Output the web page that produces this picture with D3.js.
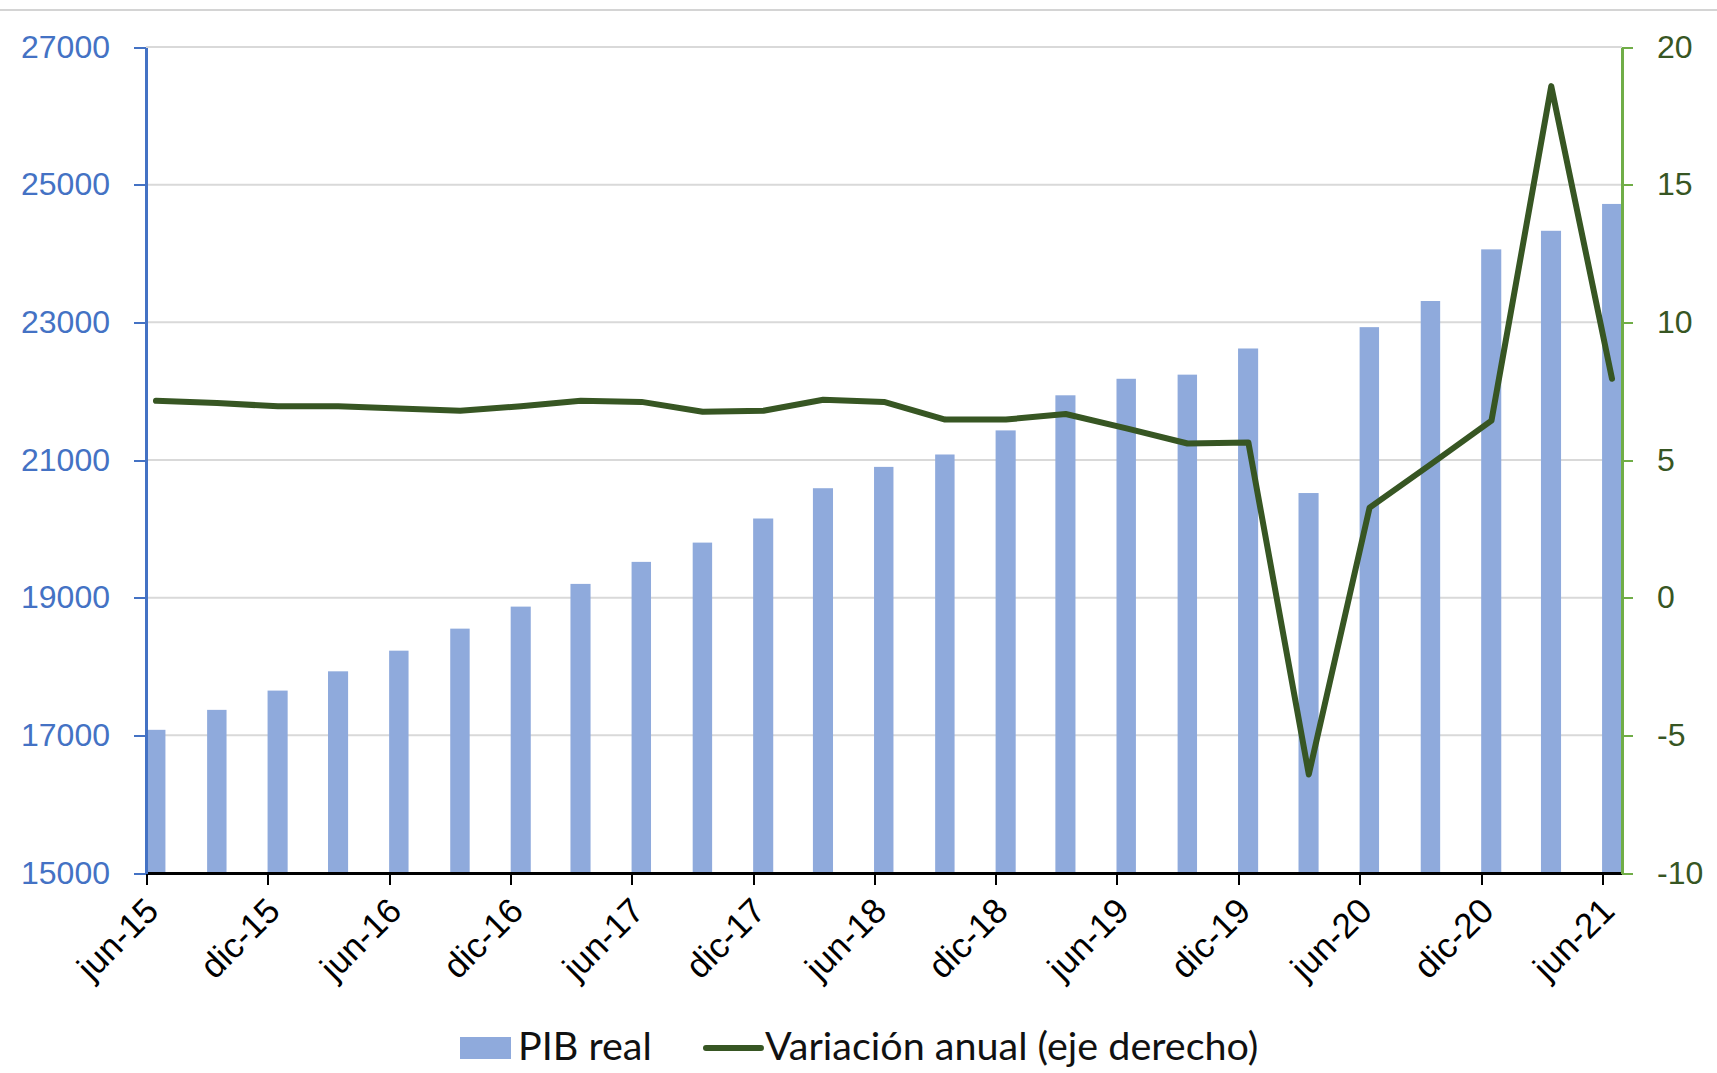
<!DOCTYPE html>
<html>
<head>
<meta charset="utf-8">
<script src="https://cdn.jsdelivr.net/npm/d3@7"></script>
<style>
  body { margin: 0; background: #fff; }
  svg { display: block; font-family: Lato, "Open Sans", sans-serif; }
</style>
</head>
<body>
<svg id="chart"></svg>
<script>
// quarterly data, jun-15 .. jun-21
const quarters = ['2015-06','2015-09','2015-12','2016-03','2016-06','2016-09','2016-12',
  '2017-03','2017-06','2017-09','2017-12','2018-03','2018-06','2018-09','2018-12',
  '2019-03','2019-06','2019-09','2019-12','2020-03','2020-06','2020-09','2020-12',
  '2021-03','2021-06'];

const pibReal = [17080, 17370, 17650, 17930, 18230, 18550, 18870,
  19200, 19520, 19800, 20150, 20590, 20900, 21080, 21430,
  21940, 22180, 22240, 22620, 20520, 22930, 23310, 24060,
  24330, 24720];

const variacionAnual = [7.15, 7.07, 6.95, 6.95, 6.87, 6.79, 6.95,
  7.15, 7.11, 6.75, 6.79, 7.19, 7.11, 6.47, 6.47,
  6.67, 6.15, 5.60, 5.64, -6.42, 3.27, 4.84, 6.43,
  18.58, 7.95];

const leftTicks = [15000, 17000, 19000, 21000, 23000, 25000, 27000];
const rightTicks = [-10, -5, 0, 5, 10, 15, 20];
const xTickLabels = ['jun-15','dic-15','jun-16','dic-16','jun-17','dic-17','jun-18',
  'dic-18','jun-19','dic-19','jun-20','dic-20','jun-21'];

const legendLabels = ['PIB real', 'Variación anual (eje derecho)'];

function makeChart() {
  let w = 1717;
  let h = 1073;
  let parse = d3.utcParse('%Y-%m');

  let svg = d3.select('#chart')
    .attr('width', w)
    .attr('height', h);

  // thin frame line at the top
  svg.append('line')
    .attr('x1', 0).attr('x2', w)
    .attr('y1', 10).attr('y2', 10)
    .attr('stroke', '#d4d4d4')
    .attr('stroke-width', 2);

  let dates = quarters.map(parse);
  let start = dates[0];
  let end = d3.utcMonth.offset(dates[dates.length - 1], 1);

  // date axis: each column fills one month
  let xScale = d3.scaleUtc()
    .domain([start, end])
    .range([146, 1622]);

  let yLeft = d3.scaleLinear()
    .domain([15000, 27000])
    .range([873, 47]);

  let yRight = d3.scaleLinear()
    .domain([-10, 20])
    .range([873, 47]);

  // GRID
  svg.append('g')
    .selectAll('line')
    .data(leftTicks.slice(1))
    .enter()
    .append('line')
    .attr('x1', 146)
    .attr('x2', 1622)
    .attr('y1', (d) => yLeft(d))
    .attr('y2', (d) => yLeft(d))
    .attr('stroke', '#d9d9d9')
    .attr('stroke-width', 2);

  // BARS
  svg.append('g')
    .selectAll('rect')
    .data(pibReal)
    .enter()
    .append('rect')
    .attr('x', (d, i) => xScale(dates[i]))
    .attr('y', (d) => yLeft(d))
    .attr('width', (d, i) => xScale(d3.utcMonth.offset(dates[i], 1)) - xScale(dates[i]) - 0.5)
    .attr('height', (d) => yLeft(15000) - yLeft(d))
    .attr('fill', '#8faadc');

  // x position of the middle of a month
  let mid = (i) => (xScale(dates[i]) + xScale(d3.utcMonth.offset(dates[i], 1))) / 2;

  // LINE
  let line = d3.line()
    .x((d, i) => mid(i))
    .y((d) => yRight(d));

  svg.append('path')
    .datum(variacionAnual)
    .attr('d', line)
    .attr('fill', 'none')
    .attr('stroke', '#375623')
    .attr('stroke-width', 6)
    .attr('stroke-linejoin', 'round')
    .attr('stroke-linecap', 'round');

  // AXES
  let tickDates = d3.utcMonth.range(start, end, 6);

  let xAxis = svg.append('g')
    .attr('transform', `translate(0, ${yLeft(15000)})`)
    .call(d3.axisBottom(xScale)
      .tickValues(tickDates)
      .tickSize(12)
      .tickSizeOuter(0)
      .tickFormat((d, i) => xTickLabels[i]));
  xAxis.select('.domain').attr('stroke', '#000').attr('stroke-width', 2.5);
  xAxis.selectAll('.tick line').attr('stroke', '#000').attr('stroke-width', 2);
  xAxis.selectAll('.tick text')
    .attr('font-size', '35px')
    .attr('fill', '#000')
    .attr('text-anchor', 'end')
    .attr('dy', null)
    .attr('y', 0)
    .attr('transform', 'translate(14, 40) rotate(-45)');

  let leftAxis = svg.append('g')
    .attr('transform', 'translate(146, 0)')
    .call(d3.axisLeft(yLeft)
      .tickValues(leftTicks)
      .tickSize(12)
      .tickSizeOuter(0)
      .tickPadding(24)
      .tickFormat((d) => String(d)));
  leftAxis.select('.domain').attr('stroke', '#4472c4').attr('stroke-width', 2.5);
  leftAxis.selectAll('.tick line').attr('stroke', '#4472c4').attr('stroke-width', 2);
  leftAxis.selectAll('.tick text')
    .attr('font-size', '32px')
    .attr('fill', '#4472c4');

  let rightAxis = svg.append('g')
    .attr('transform', 'translate(1622, 0)')
    .call(d3.axisRight(yRight)
      .tickValues(rightTicks)
      .tickSize(11)
      .tickSizeOuter(0)
      .tickPadding(24)
      .tickFormat((d) => String(d)));
  rightAxis.select('.domain').attr('stroke', '#70ad47').attr('stroke-width', 2.5);
  rightAxis.selectAll('.tick line').attr('stroke', '#70ad47').attr('stroke-width', 2);
  rightAxis.selectAll('.tick text')
    .attr('font-size', '32px')
    .attr('fill', '#375623');

  svg.selectAll('.tick line, .domain').attr('shape-rendering', 'crispEdges');

  // LEGEND
  let legend = svg.append('g');
  legend.append('rect')
    .attr('x', 460).attr('y', 1037)
    .attr('width', 51).attr('height', 22)
    .attr('fill', '#8faadc');
  legend.append('text')
    .attr('x', 518).attr('y', 1060)
    .attr('font-size', '39.5px')
    .attr('fill', '#111')
    .text(legendLabels[0]);
  legend.append('line')
    .attr('x1', 706).attr('x2', 761)
    .attr('y1', 1048).attr('y2', 1048)
    .attr('stroke', '#375623')
    .attr('stroke-width', 6)
    .attr('stroke-linecap', 'round');
  legend.append('text')
    .attr('x', 765).attr('y', 1060)
    .attr('font-size', '39.5px')
    .attr('fill', '#111')
    .text(legendLabels[1]);
}

window.onload = function () {
  makeChart();
};
</script>
</body>
</html>
